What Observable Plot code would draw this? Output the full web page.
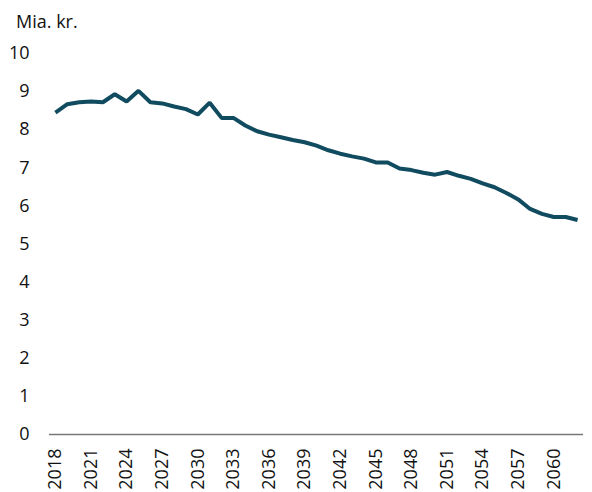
<!DOCTYPE html>
<html>
<head>
<meta charset="utf-8">
<script src="https://cdn.jsdelivr.net/npm/d3@7"></script>
<script src="https://cdn.jsdelivr.net/npm/@observablehq/plot@0.6"></script>
<style>
  html, body { margin: 0; padding: 0; background: #fff; }
  body { width: 592px; height: 492px; overflow: hidden; font-family: "Open Sans", sans-serif; }
  #title { height: 36px; box-sizing: border-box; padding: 9px 0 0 16px; font-size: 18px; line-height: 24px; color: #111; }
</style>
</head>
<body>
<div id="title">Mia. kr.</div>
<div id="chart"></div>
<script>
const years = d3.range(2018, 2063);
const values = [
  8.45, 8.67, 8.72, 8.74, 8.72, 8.93, 8.74, 9.02, 8.72, 8.69,
  8.61, 8.54, 8.40, 8.71, 8.31, 8.31, 8.11, 7.96, 7.87, 7.80,
  7.73, 7.67, 7.58, 7.46, 7.37, 7.30, 7.24, 7.14, 7.14, 6.98,
  6.94, 6.87, 6.82, 6.89, 6.79, 6.71, 6.59, 6.49, 6.34, 6.17,
  5.92, 5.79, 5.71, 5.71, 5.63
];
const xTicks = d3.range(2018, 2061, 3);
const yTicks = d3.range(0, 11, 1);
const data = years.map((y, i) => ({year: y, value: values[i]}));

const chart = Plot.plot({
  width: 592,
  height: 456,
  marginTop: 17,
  marginBottom: 58,
  marginLeft: 49,
  marginRight: 9,
  style: {fontFamily: "Open Sans", fontSize: "18px", color: "#111"},
  x: {domain: [2017.5, 2062.5], label: null},
  y: {domain: [0, 10], label: null},
  marks: [
    Plot.axisY({ticks: yTicks, tickSize: 0, tickPadding: 20, label: null, tickFormat: d => String(d)}),
    Plot.axisX({ticks: xTicks, tickSize: 0, tickPadding: 14, tickRotate: -90, label: null, tickFormat: d => String(d)}),
    Plot.ruleY([0], {stroke: "#777", strokeWidth: 1.5}),
    Plot.line(data, {x: "year", y: "value", stroke: "#114b5f", strokeWidth: 4, strokeLinejoin: "miter", strokeLinecap: "butt"})
  ]
});
document.getElementById("chart").appendChild(chart);
</script>
</body>
</html>
